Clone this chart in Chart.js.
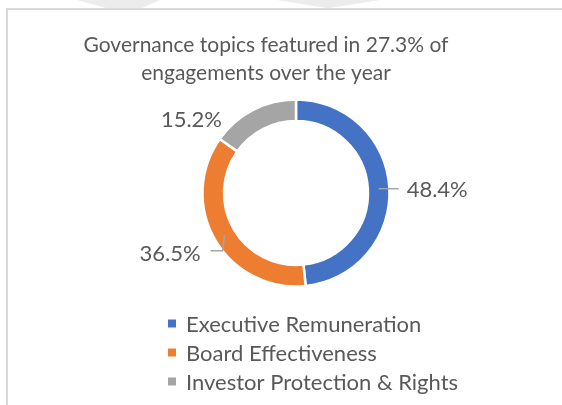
<!DOCTYPE html>
<html>
<head>
<meta charset="utf-8">
<script src="https://cdn.jsdelivr.net/npm/chart.js@4/dist/chart.umd.min.js"></script>
<style>
  html, body { margin: 0; padding: 0; background: #ffffff; }
  body { width: 562px; height: 405px; position: relative; overflow: hidden; }
  #wm { position: absolute; left: 0; top: 0; }
  #frame { position: absolute; left: 6px; top: 8px; width: 600px; height: 420px;
           border-left: 2px solid #d9d9d9; border-top: 2px solid #d9d9d9; box-sizing: border-box; }
  #box { position: absolute; left: 6px; top: 0; width: 520px; height: 405px; }
</style>
</head>
<body>
<svg id="wm" width="562" height="12">
  <polygon points="77,0 160,0 142,8 106,8" fill="#ececec"/>
  <polygon points="277,0 380,0 330,8 326,8" fill="#ececec"/>
</svg>
<div id="frame"></div>
<div id="box"><canvas id="c"></canvas></div>
<script>
// ---- data ----
const categories = ['Executive Remuneration', 'Board Effectiveness', 'Investor Protection & Rights'];
const shares = [48.4, 36.5, 15.2];
const valueLabels = ['48.4%', '36.5%', '15.2%'];
const titleLines = ['Governance topics featured in 27.3% of', 'engagements over the year'];
const sliceColors = ['#4472C4', '#ED7D31', '#A5A5A5'];

const FONT = 'Lato, "Open Sans", sans-serif';
const TEXT = '#595959';

// shift plot area right (chart drawn off-centre relative to the title)
const shiftPlot = {
  id: 'shiftPlot',
  afterLayout(chart, args, opts) {
    chart.chartArea.left += opts.dx;
    chart.chartArea.right += opts.dx;
  }
};

// data labels with leader lines, positioned from the arc geometry
const sliceLabels = {
  id: 'sliceLabels',
  afterDatasetsDraw(chart, args, opts) {
    const ctx = chart.ctx;
    const meta = chart.getDatasetMeta(0);
    ctx.save();
    ctx.font = opts.size + 'px ' + FONT;
    ctx.fillStyle = TEXT;
    ctx.textBaseline = 'middle';
    meta.data.forEach((arc, i) => {
      const p = arc.getProps(['x', 'y', 'startAngle', 'endAngle', 'innerRadius', 'outerRadius'], true);
      const a = (p.startAngle + p.endAngle) / 2;
      const rm = (p.innerRadius + p.outerRadius) / 2;
      const ax = p.x + Math.cos(a) * rm;
      const ay = p.y + Math.sin(a) * rm;
      const L = opts.layout[i];
      if (L.line && L.line.length) {
        ctx.beginPath();
        ctx.strokeStyle = opts.lineColor;
        ctx.lineWidth = 1.5;
        ctx.moveTo(ax, ay);
        L.line.forEach(([dx, dy]) => ctx.lineTo(ax + dx, ay + dy));
        ctx.stroke();
      }
      ctx.textAlign = L.align;
      ctx.fillText(valueLabels[i], ax + L.tx, ay + L.ty);
    });
    ctx.restore();
  }
};

// vertical legend under the ring
const stackLegend = {
  id: 'stackLegend',
  afterDraw(chart, args, opts) {
    const ctx = chart.ctx;
    const ds = chart.data.datasets[0];
    ctx.save();
    ctx.font = opts.size + 'px ' + FONT;
    ctx.textBaseline = 'middle';
    ctx.textAlign = 'left';
    chart.data.labels.forEach((lab, i) => {
      const y = chart.chartArea.bottom + opts.firstRow + i * opts.rowGap;
      ctx.fillStyle = ds.backgroundColor[i];
      ctx.fillRect(opts.x, y - opts.box / 2, opts.box, opts.box);
      ctx.fillStyle = TEXT;
      ctx.fillText(lab, opts.x + opts.textGap, y + 1);
    });
    ctx.restore();
  }
};

new Chart(document.getElementById('c'), {
  type: 'doughnut',
  data: {
    labels: categories,
    datasets: [{
      data: shares,
      backgroundColor: sliceColors,
      borderColor: '#ffffff',
      borderWidth: 2.5,
      hoverOffset: 0
    }]
  },
  options: {
    responsive: true,
    maintainAspectRatio: false,
    animation: false,
    radius: 93.5,
    cutout: '77%',
    layout: { padding: { top: 0, bottom: 120, left: 0, right: 0 } },
    plugins: {
      legend: { display: false },
      tooltip: { enabled: false },
      title: {
        display: true,
        text: titleLines,
        color: TEXT,
        font: { family: FONT, size: 21, weight: 'normal', lineHeight: 28 / 21 },
        padding: { top: 31, bottom: 14 }
      },
      shiftPlot: { dx: 30 },
      sliceLabels: {
        size: 22,
        lineColor: '#A6A6A6',
        layout: [
          { line: [[20, 0]], tx: 28, ty: 1, align: 'left' },
          { line: [[-2, 16], [-14, 16]], tx: -24, ty: 19, align: 'right' },
          { line: [], tx: -36, ty: 0, align: 'right' }
        ]
      },
      stackLegend: { size: 22, x: 162, box: 8, textGap: 18, firstRow: 38.5, rowGap: 29 }
    }
  },
  plugins: [shiftPlot, sliceLabels, stackLegend]
});
</script>
</body>
</html>
